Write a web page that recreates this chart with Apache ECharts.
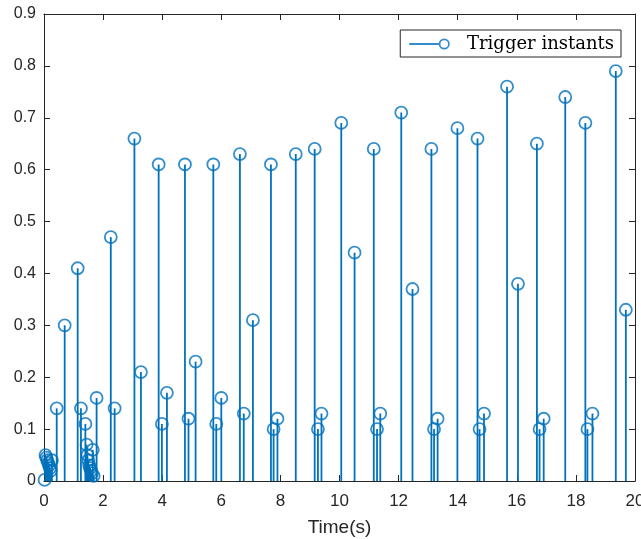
<!DOCTYPE html>
<html>
<head>
<meta charset="utf-8">
<script src="https://cdn.jsdelivr.net/npm/echarts@6/dist/echarts.min.js"></script>
<style>
  html, body { margin: 0; padding: 0; background: #fff; }
  #main { width: 641px; height: 539px; }
</style>
</head>
<body>
<div id="main"></div>
<script>
// trigger instants (s) and the value at each instant
var times = [
  0.02, 0.05, 0.08, 0.11, 0.14, 0.17, 0.20, 0.23, 0.27, 0.43, 0.70,
  1.14, 1.25, 1.40, 1.44, 1.47, 1.50, 1.53, 1.56, 1.59, 1.62, 1.65, 1.68, 1.78,
  2.26, 2.39, 3.06, 3.28, 3.88, 3.99, 4.16, 4.77, 4.89, 5.13,
  5.73, 5.83, 6.00, 6.63, 6.76, 7.07, 7.68, 7.77, 7.90, 8.52,
  9.16, 9.27, 9.39, 10.06, 10.51, 11.16, 11.27, 11.38, 12.09, 12.47,
  13.11, 13.20, 13.32, 13.99, 14.67, 14.74, 14.89, 15.67, 16.04,
  16.68, 16.77, 16.91, 17.64, 18.32, 18.39, 18.56, 19.35, 19.69
];
var values = [
  0.002, 0.05, 0.045, 0.04, 0.035, 0.03, 0.025, 0.02, 0.04, 0.14, 0.30,
  0.41, 0.14, 0.11, 0.07, 0.05, 0.04, 0.03, 0.025, 0.02, 0.015, 0.06, 0.01, 0.16,
  0.47, 0.14, 0.66, 0.21, 0.61, 0.11, 0.17, 0.61, 0.12, 0.23,
  0.61, 0.11, 0.16, 0.63, 0.13, 0.31, 0.61, 0.10, 0.12, 0.63,
  0.64, 0.10, 0.13, 0.69, 0.44, 0.64, 0.10, 0.13, 0.71, 0.37,
  0.64, 0.10, 0.12, 0.68, 0.66, 0.10, 0.13, 0.76, 0.38,
  0.65, 0.10, 0.12, 0.74, 0.69, 0.10, 0.13, 0.79, 0.33
];
var xTicks = [0, 20, 2];
var yTicks = [0, 0.9, 0.1];

var pts = times.map(function (t, i) { return [t, values[i]]; });

var blue = '#0072BD';
var axisCol = '#262626';

// line + open circle, like the MATLAB stem legend entry
var legendIcon = 'path://M0 4.1H31V5.9H0Z' +
  'M29.5 5A5.5 5.5 0 1 1 40.5 5A5.5 5.5 0 1 1 29.5 5Z' +
  'M31.2 5A3.8 3.8 0 1 0 38.8 5A3.8 3.8 0 1 0 31.2 5Z';

function axisX(pos, showLabel) {
  return {
    type: 'value', position: pos, min: xTicks[0], max: xTicks[1], interval: xTicks[2],
    name: showLabel ? 'Time(s)' : '', nameLocation: 'middle', nameGap: 37,
    nameTextStyle: { fontFamily: 'Liberation Sans', fontSize: 19, color: axisCol },
    axisLine: { show: true, onZero: false, lineStyle: { color: axisCol, width: 1 } },
    axisTick: { show: true, inside: true, length: 6, lineStyle: { color: axisCol } },
    axisLabel: { show: showLabel, fontFamily: 'Liberation Sans', fontSize: 17, color: axisCol, margin: 12 },
    splitLine: { show: false }
  };
}
function axisY(pos, showLabel) {
  return {
    type: 'value', position: pos, min: yTicks[0], max: yTicks[1], interval: yTicks[2],
    axisLine: { show: true, onZero: false, lineStyle: { color: axisCol, width: 1 } },
    axisTick: { show: true, inside: true, length: 6, lineStyle: { color: axisCol } },
    axisLabel: { show: showLabel, fontFamily: 'Liberation Sans', fontSize: 16, color: axisCol, margin: 8 },
    splitLine: { show: false }
  };
}

var chart = echarts.init(document.getElementById('main'));
var option = {
  backgroundColor: '#fff',
  animation: false,
  grid: { left: 44, right: 6, top: 14, bottom: 58, containLabel: false, outerBoundsMode: 'none' },
  legend: {
    right: 20, top: 30,
    padding: [5, 7, 4, 9],
    borderColor: axisCol, borderWidth: 1,
    backgroundColor: '#fff',
    itemWidth: 41, itemHeight: 11, itemGap: 10,
    selectedMode: false,
    data: [{ name: 'Trigger instants', icon: legendIcon, itemStyle: { color: blue, borderWidth: 0 } }],
    textStyle: { fontFamily: 'DejaVu Serif', fontSize: 18, color: '#000', padding: [0, 0, 0, 12] }
  },
  xAxis: [axisX('bottom', true), axisX('top', false)],
  yAxis: [axisY('left', true), axisY('right', false)],
  series: [
    {
      name: 'stems',
      type: 'custom',
      clip: false,
      data: pts,
      renderItem: function (params, api) {
        var p0 = api.coord([api.value(0), 0]);
        var p1 = api.coord([api.value(0), api.value(1)]);
        return {
          type: 'line',
          shape: { x1: p0[0], y1: p0[1], x2: p1[0], y2: p1[1] },
          style: { stroke: blue, lineWidth: 1.8 }
        };
      }
    },
    {
      name: 'Trigger instants',
      type: 'scatter',
      data: pts,
      symbol: 'circle',
      symbolSize: 12,
      clip: false,
      itemStyle: { color: 'rgba(0,0,0,0)', borderColor: blue, borderWidth: 1.8 },
      z: 3
    }
  ]
};
chart.setOption(option);
</script>
</body>
</html>
